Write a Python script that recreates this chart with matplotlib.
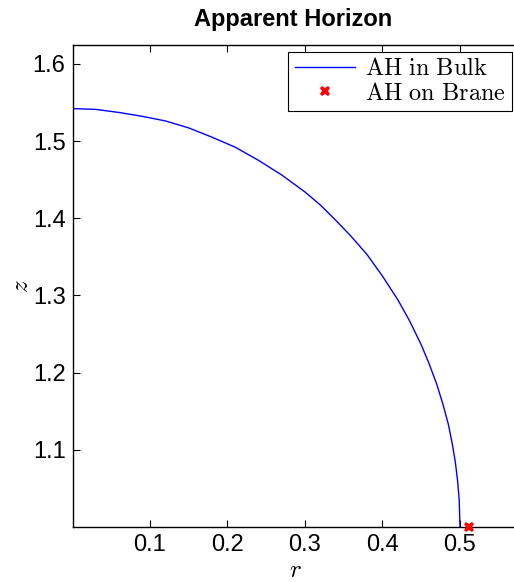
import matplotlib
matplotlib.use("Agg")
import matplotlib.pyplot as plt

# apparent horizon curve in the bulk
r_bulk = [0.0, 0.03, 0.06, 0.09, 0.12, 0.15, 0.18, 0.21, 0.24, 0.27,
          0.30, 0.32, 0.34, 0.36, 0.38, 0.40, 0.42, 0.435, 0.45, 0.46,
          0.47, 0.478, 0.485, 0.49, 0.494, 0.497, 0.499, 0.5]
z_bulk = [1.542, 1.541, 1.537, 1.532, 1.526, 1.517, 1.505, 1.492, 1.475, 1.456,
          1.434, 1.417, 1.397, 1.376, 1.353, 1.325, 1.294, 1.267, 1.236, 1.212,
          1.185, 1.159, 1.133, 1.108, 1.084, 1.059, 1.035, 1.0]

# apparent horizon on the brane
r_brane = [0.511]
z_brane = [1.0]

xticks = [0.1, 0.2, 0.3, 0.4, 0.5]
yticks = [1.1, 1.2, 1.3, 1.4, 1.5, 1.6]

plt.rcParams['font.family'] = ['Liberation Sans', 'DejaVu Sans']
plt.rcParams['mathtext.fontset'] = 'cm'

fig = plt.figure(figsize=(5.14, 5.82), dpi=100)
ax = fig.add_axes([72.5 / 514, 55 / 582, 441.5 / 514, 482 / 582])

ax.plot(r_bulk, z_bulk, color='blue', linewidth=1.0, label=r'$\mathrm{AH\ in\ Bulk}$')
ax.plot(r_brane, z_brane, linestyle='none', marker='X', color='red',
        markersize=7.5, markeredgewidth=0, clip_on=False, zorder=5,
        label=r'$\mathrm{AH\ on\ Brane}$')

ax.set_xlim(0, 0.5697)
ax.set_ylim(1.0, 1.6244)
ax.set_xticks(xticks)
ax.set_yticks(yticks)
ax.set_xticklabels([f'{v:g}' for v in xticks])
ax.set_yticklabels([f'{v:g}' for v in yticks])
ax.tick_params(direction='in', top=True, right=False, labelsize=17, length=5,
               width=0.8, pad=5)
ax.spines['right'].set_visible(False)
for s in ['left', 'bottom', 'top']:
    ax.spines[s].set_linewidth(1.0)

ax.set_xlabel(r'$r$', fontsize=18)
ax.set_ylabel(r'$z$', fontsize=18, labelpad=0)
ax.xaxis.set_label_coords(0.505, -0.064)
ax.set_title('Apparent Horizon', fontsize=17, fontweight='bold', pad=14)

leg = ax.legend(loc='upper right', bbox_to_anchor=(0.995, 0.985), borderaxespad=0,
                fontsize=17.5, fancybox=False, framealpha=1, edgecolor='black',
                handlelength=2.5, handletextpad=0.4, borderpad=0.25, labelspacing=0.1)
leg.get_frame().set_linewidth(0.8)

fig.savefig('out.png', dpi=100)
